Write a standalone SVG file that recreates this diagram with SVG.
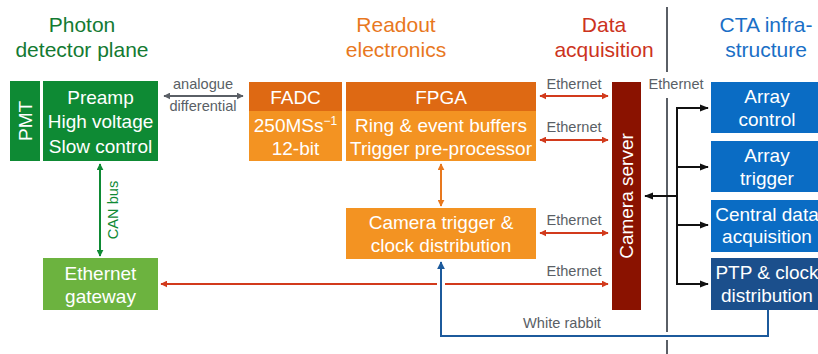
<svg xmlns="http://www.w3.org/2000/svg" width="818" height="354" viewBox="0 0 818 354">
  <style>
    text { font-family: "Liberation Sans", Arial, Helvetica, sans-serif; }
    .title { font-size: 21px; text-anchor: middle; }
    .box { font-size: 19px; fill: #ffffff; text-anchor: middle; }
    .lbl { font-size: 14.6px; fill: #5a5f66; text-anchor: middle; }
    .red { stroke: #d23a1c; stroke-width: 2; fill: none; }
    .blk { stroke: #111111; stroke-width: 2; fill: none; }
  </style>
  <defs>
    <marker id="ahRed" viewBox="0 0 10 10" refX="9" refY="5" markerWidth="7" markerHeight="7" orient="auto-start-reverse" markerUnits="userSpaceOnUse">
      <path d="M0,0 L10,5 L0,10 Z" fill="#d23a1c"/>
    </marker>
    <marker id="ahGrey" viewBox="0 0 10 10" refX="9" refY="5" markerWidth="7" markerHeight="7" orient="auto-start-reverse" markerUnits="userSpaceOnUse">
      <path d="M0,0 L10,5 L0,10 Z" fill="#5a5f66"/>
    </marker>
    <marker id="ahGreen" viewBox="0 0 10 10" refX="9" refY="5" markerWidth="7" markerHeight="7" orient="auto-start-reverse" markerUnits="userSpaceOnUse">
      <path d="M0,0 L10,5 L0,10 Z" fill="#0e8a34"/>
    </marker>
    <marker id="ahOrange" viewBox="0 0 10 10" refX="9" refY="5" markerWidth="7" markerHeight="7" orient="auto-start-reverse" markerUnits="userSpaceOnUse">
      <path d="M0,0 L10,5 L0,10 Z" fill="#e8781e"/>
    </marker>
    <marker id="ahBlack" viewBox="0 0 10 10" refX="9" refY="5" markerWidth="9" markerHeight="9" orient="auto-start-reverse" markerUnits="userSpaceOnUse">
      <path d="M0,1 L10,5 L0,9 Z" fill="#111111"/>
    </marker>
    <marker id="ahBlue" viewBox="0 0 10 10" refX="9" refY="5" markerWidth="8" markerHeight="8" orient="auto-start-reverse" markerUnits="userSpaceOnUse">
      <path d="M0,0 L10,5 L0,10 Z" fill="#1c5a9c"/>
    </marker>
  </defs>

  <!-- section headings -->
  <g id="headings">
    <text class="title" x="82" y="32" fill="#137a32">Photon</text>
    <text class="title" x="82" y="57" fill="#137a32">detector plane</text>
    <text class="title" x="396" y="32" fill="#e8781e">Readout</text>
    <text class="title" x="396" y="57" fill="#e8781e">electronics</text>
    <text class="title" x="604" y="32" fill="#cc3320">Data</text>
    <text class="title" x="604" y="57" fill="#cc3320">acquisition</text>
    <text class="title" x="766" y="32" fill="#1a6fc6">CTA infra-</text>
    <text class="title" x="766" y="57" fill="#1a6fc6">structure</text>
  </g>

  <!-- dividing line -->
  <g id="divider" stroke="#5a5f66" stroke-width="2">
    <line x1="667" y1="7" x2="667" y2="72"/>
    <line x1="667" y1="98" x2="667" y2="332"/>
    <line x1="667" y1="340" x2="667" y2="354"/>
  </g>

  <!-- nodes -->
  <g id="pmt">
    <rect x="10" y="81" width="30" height="80" fill="#0e8a34"/>
    <text class="box" transform="translate(32,121) rotate(-90)">PMT</text>
  </g>
  <g id="preamp">
    <rect x="43" y="81" width="115" height="80" fill="#0e8a34"/>
    <text class="box" x="100.5" y="104">Preamp</text>
    <text class="box" x="100.5" y="128">High voltage</text>
    <text class="box" x="100.5" y="153">Slow control</text>
  </g>
  <g id="fadc">
    <rect x="249" y="82" width="93" height="29" fill="#de6913"/>
    <rect x="249" y="111" width="93" height="50" fill="#f39322"/>
    <text class="box" x="295.5" y="104">FADC</text>
    <text class="box" x="295.5" y="132">250MSs<tspan font-size="12" dy="-7">−1</tspan></text>
    <text class="box" x="295.5" y="155">12-bit</text>
  </g>
  <g id="fpga">
    <rect x="346" y="82" width="190" height="29" fill="#de6913"/>
    <rect x="346" y="111" width="190" height="50" fill="#f39322"/>
    <text class="box" x="441" y="104">FPGA</text>
    <text class="box" x="441" y="132">Ring &amp; event buffers</text>
    <text class="box" x="441" y="155">Trigger pre-processor</text>
  </g>
  <g id="camera-trigger">
    <rect x="346" y="208" width="190" height="51" fill="#f39322"/>
    <text class="box" x="441" y="229">Camera trigger &amp;</text>
    <text class="box" x="441" y="252">clock distribution</text>
  </g>
  <g id="ethernet-gateway">
    <rect x="43" y="258" width="115" height="52" fill="#6cb33f"/>
    <text class="box" x="100.5" y="280">Ethernet</text>
    <text class="box" x="100.5" y="303">gateway</text>
  </g>
  <g id="camera-server">
    <rect x="612" y="82" width="29" height="228" fill="#8a1200"/>
    <text class="box" transform="translate(633,196) rotate(-90)">Camera server</text>
  </g>
  <g id="array-control">
    <rect x="711" y="82" width="107" height="51" fill="#0a6cc4"/>
    <text class="box" x="767" y="103">Array</text>
    <text class="box" x="767" y="126">control</text>
  </g>
  <g id="array-trigger">
    <rect x="711" y="141" width="107" height="51" fill="#0a6cc4"/>
    <text class="box" x="767" y="162">Array</text>
    <text class="box" x="767" y="185">trigger</text>
  </g>
  <g id="central-daq">
    <rect x="711" y="200" width="107" height="52" fill="#0a6cc4"/>
    <text class="box" x="767" y="221">Central data</text>
    <text class="box" x="767" y="243">acquisition</text>
  </g>
  <g id="ptp-clock">
    <rect x="711" y="258" width="107" height="52" fill="#1b4f8c"/>
    <text class="box" x="767" y="279">PTP &amp; clock</text>
    <text class="box" x="767" y="302">distribution</text>
  </g>

  <!-- connectors -->
  <g id="connectors">
    <line x1="164" y1="96" x2="243" y2="96" stroke="#5a5f66" stroke-width="2" marker-start="url(#ahGrey)" marker-end="url(#ahGrey)"/>
    <line x1="100" y1="164" x2="100" y2="256" stroke="#0e8a34" stroke-width="2" marker-start="url(#ahGreen)" marker-end="url(#ahGreen)"/>
    <line x1="441" y1="164" x2="441" y2="206" stroke="#e8781e" stroke-width="2" marker-start="url(#ahOrange)" marker-end="url(#ahOrange)"/>
    <line class="red" x1="540" y1="96" x2="608" y2="96" marker-start="url(#ahRed)" marker-end="url(#ahRed)"/>
    <line class="red" x1="540" y1="140" x2="608" y2="140" marker-start="url(#ahRed)" marker-end="url(#ahRed)"/>
    <line class="red" x1="540" y1="233" x2="608" y2="233" marker-start="url(#ahRed)" marker-end="url(#ahRed)"/>
    <line class="red" x1="161" y1="284" x2="437" y2="284" marker-start="url(#ahRed)"/>
    <line class="red" x1="445" y1="284" x2="608" y2="284" marker-end="url(#ahRed)"/>
    <!-- infrastructure bus -->
    <line class="blk" x1="677" y1="108" x2="677" y2="284"/>
    <line class="blk" x1="676" y1="108" x2="708" y2="108" marker-end="url(#ahBlack)"/>
    <line class="blk" x1="676" y1="167" x2="708" y2="167" marker-end="url(#ahBlack)"/>
    <line class="blk" x1="676" y1="225" x2="708" y2="225" marker-end="url(#ahBlack)"/>
    <line class="blk" x1="676" y1="284" x2="708" y2="284" marker-end="url(#ahBlack)"/>
    <line class="blk" x1="677" y1="196" x2="645" y2="196" marker-end="url(#ahBlack)"/>
    <!-- white rabbit timing link -->
    <path d="M768,310 V336 H441 V262" stroke="#1c5a9c" stroke-width="2" fill="none" marker-end="url(#ahBlue)"/>
  </g>

  <!-- connector labels -->
  <g id="labels">
    <text class="lbl" x="203" y="89">analogue</text>
    <text class="lbl" x="203" y="111">differential</text>
    <text class="lbl" transform="translate(118,210) rotate(-90)" style="fill:#0e8a34">CAN bus</text>
    <text class="lbl" x="574" y="89">Ethernet</text>
    <text class="lbl" x="676" y="89">Ethernet</text>
    <text class="lbl" x="574" y="132">Ethernet</text>
    <text class="lbl" x="574" y="225">Ethernet</text>
    <text class="lbl" x="574" y="276">Ethernet</text>
    <text class="lbl" x="562" y="328">White rabbit</text>
  </g>
</svg>
